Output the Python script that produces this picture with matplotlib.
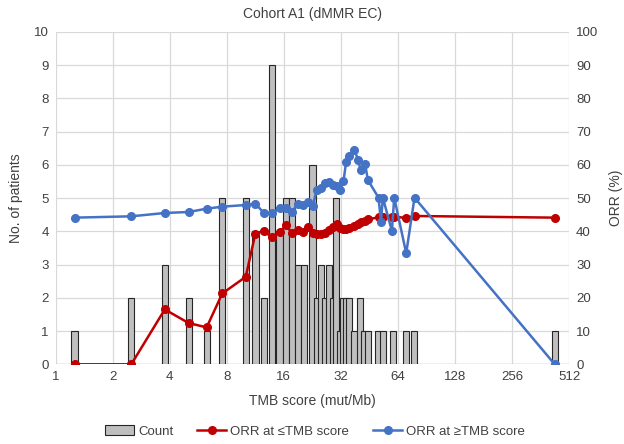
import numpy as np
import matplotlib
matplotlib.use('Agg')
import matplotlib.pyplot as plt
from matplotlib.ticker import FixedLocator, FixedFormatter, NullLocator
from matplotlib.patches import Patch
from matplotlib.lines import Line2D

plt.rcParams['font.family'] = ['Liberation Sans', 'DejaVu Sans']

# Histogram of patients by TMB score
bar_tmb = [1.26, 2.51, 3.77, 5.04, 6.27, 7.58, 10.08, 11.33, 12.54, 13.85,
           15.2, 16.4, 17.66, 18.97, 20.4, 22.71, 24.1, 25.2, 26.5, 27.76,
           29.1, 30.3, 31.73, 32.8, 34.0, 35.3, 37.8, 40.3, 42.5, 44.4,
           50.1, 53.3, 60.1, 70.9, 77.5, 430]
bar_count = [1, 2, 3, 2, 1, 5, 5, 4, 2, 9,
             4, 5, 5, 3, 3, 6, 2, 3, 2, 3,
             2, 5, 1, 2, 2, 2, 1, 2, 1, 1,
             1, 1, 1, 1, 1, 1]

# ORR at each cutoff
orr_tmb = [1.26, 2.51, 3.77, 5.04, 6.27, 7.58, 10.08, 11.33, 12.52, 13.83,
           15.19, 16.45, 17.63, 18.97, 20.23, 21.42, 22.71, 23.9, 25.03, 26.44,
           27.76, 29.25, 30.48, 31.73, 33.03, 34.13, 35.4, 37.76, 39.5, 40.7,
           43.0, 44.44, 50.6, 52.1, 53.3, 59.5, 61.2, 70.8, 78.3, 430]
orr_le = [0, 0, 16.5, 12.4, 11.1, 21.3, 26.3, 39.3, 40.1, 38.2,
          39.7, 41.8, 39.5, 40.4, 39.9, 41.4, 39.4, 39.2, 39.2, 39.6,
          40.4, 41.3, 42.1, 40.9, 40.7, 40.6, 41.0, 41.6, 42.2, 42.8,
          43.2, 43.6, 44.2, 44.2, 44.3, 44.4, 44.4, 44.0, 44.6, 44.1]
orr_ge = [44.1, 44.5, 45.5, 45.8, 46.8, 47.4, 47.9, 48.3, 45.6, 45.4,
          46.9, 46.9, 45.9, 48.1, 48.0, 48.9, 47.6, 52.5, 52.9, 54.6,
          54.9, 53.9, 53.5, 52.4, 55.0, 60.9, 62.5, 64.3, 61.5, 58.4,
          60.2, 55.4, 50.1, 42.9, 50.1, 40.1, 50.1, 33.4, 50.1, 0]

xticks = [1, 2, 4, 8, 16, 32, 64, 128, 256, 512]

red = '#C00000'
blue = '#4472C4'
grid_col = '#D9D9D9'

fig = plt.figure(figsize=(6.24, 4.44), dpi=100)
ax = fig.add_axes([0.089, 0.1795, 0.823, 0.749])
ax2 = ax.twinx()

# bars have a constant width in log2 space
half = 0.055
tmb = np.array(bar_tmb)
left = tmb * 2 ** (-half)
widths = tmb * 2 ** half - left
ax.bar(left, bar_count, width=widths, align='edge', color='#BFBFBF',
       edgecolor='#262626', linewidth=0.8, zorder=3)

ax2.plot(orr_tmb, orr_le, color=red, lw=1.8, marker='o', ms=5.5, zorder=4)
ax2.plot(orr_tmb, orr_ge, color=blue, lw=1.8, marker='o', ms=5.5, zorder=4)

for a in (ax, ax2):
    a.set_xscale('log', base=2)
    a.set_xlim(1, 512)
    for s in a.spines.values():
        s.set_visible(False)
    a.tick_params(length=0, labelsize=9.5, colors='#404040', pad=5)

ax.xaxis.set_major_locator(FixedLocator(xticks))
ax.xaxis.set_major_formatter(FixedFormatter([str(t) for t in xticks]))
ax.xaxis.set_minor_locator(NullLocator())
ax.set_ylim(0, 10)
ax.set_yticks(range(0, 11))
ax2.set_ylim(0, 100)
ax2.set_yticks(range(0, 101, 10))

ax.grid(True, color=grid_col, lw=0.9, zorder=0)
ax.set_axisbelow(True)
ax2.set_zorder(ax.get_zorder() + 1)
ax2.patch.set_visible(False)
ax.axhline(0, color='#BFBFBF', lw=1, zorder=1)

ax.set_title('Cohort A1 (dMMR EC)', fontsize=10, color='#404040', pad=10)
ax.set_xlabel('TMB score (mut/Mb)', fontsize=10, color='#404040', labelpad=8)
ax.set_ylabel('No. of patients', fontsize=10, color='#404040', labelpad=8)
ax2.set_ylabel('ORR (%)', fontsize=10, color='#404040', labelpad=8)

handles = [Patch(facecolor='#BFBFBF', edgecolor='#262626', lw=0.8),
           Line2D([], [], color=red, lw=1.8, marker='o', ms=5.5),
           Line2D([], [], color=blue, lw=1.8, marker='o', ms=5.5)]
fig.legend(handles, ['Count', 'ORR at \u2264TMB score', 'ORR at \u2265TMB score'],
           loc='center', bbox_to_anchor=(0.505, 0.028), ncol=3, frameon=False,
           fontsize=9.5, handlelength=2.2, handletextpad=0.3, columnspacing=1.8,
           labelcolor='#404040')

fig.savefig('out.png', dpi=100)
